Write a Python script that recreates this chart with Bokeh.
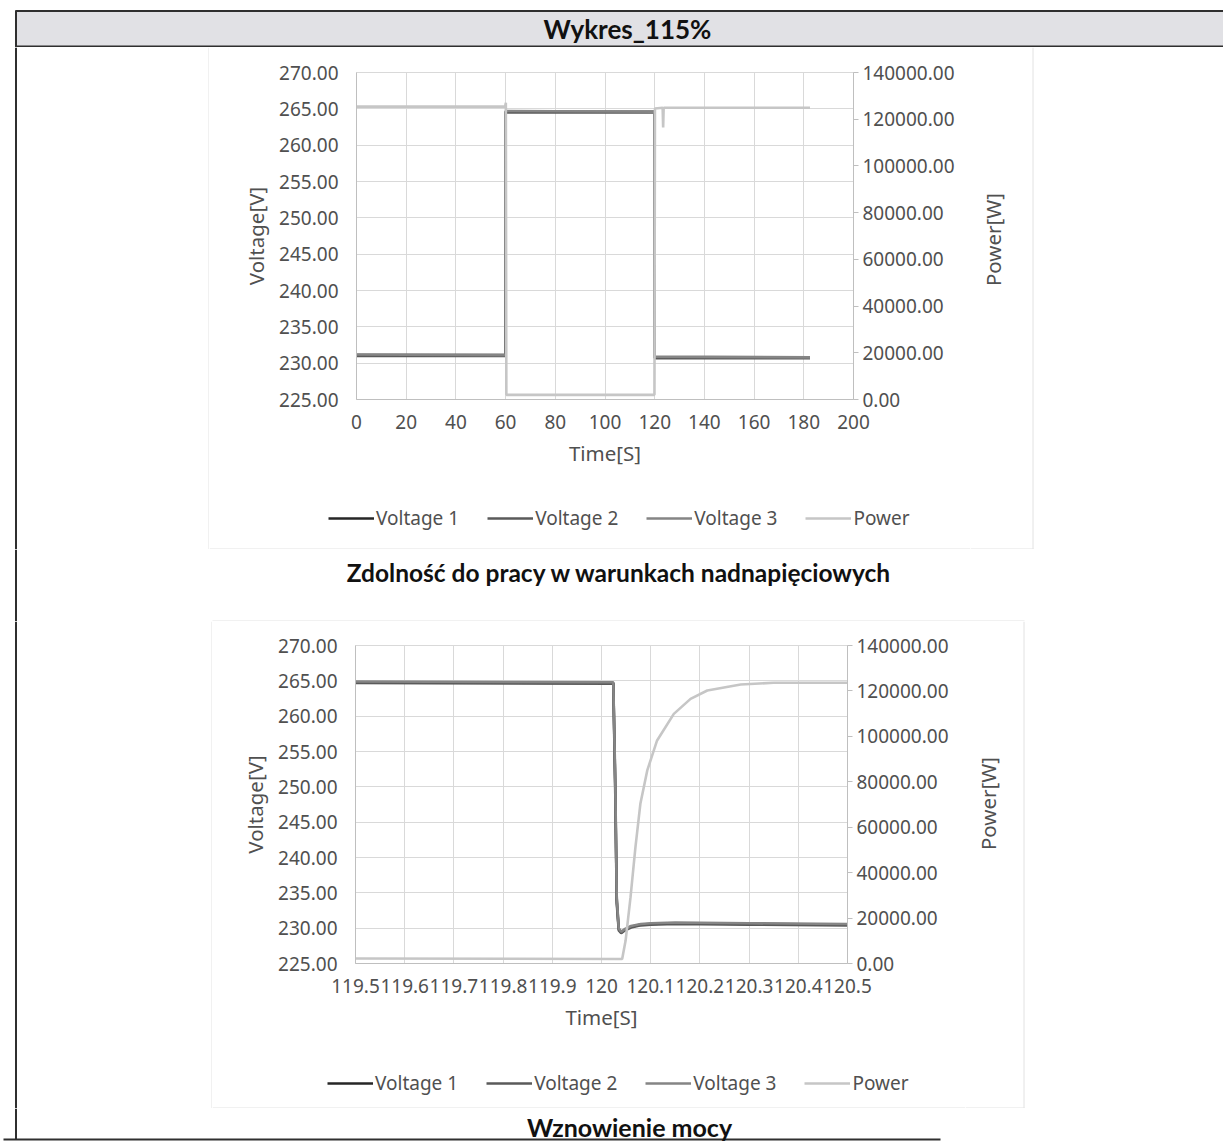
import math
from bokeh.plotting import figure
from bokeh.layouts import column, row
from bokeh.models import (Range1d, LinearAxis, FixedTicker, NumeralTickFormatter,
                          CustomJSTickFormatter, Legend, LegendItem)
from bokeh.core.properties import value
from bokeh.embed import file_html
from bokeh.resources import INLINE

# ---------------------------------------------------------------- data
series_names = ["Voltage 1", "Voltage 2", "Voltage 3", "Power"]

volt_ticks = [225, 230, 235, 240, 245, 250, 255, 260, 265, 270]
power_ticks = [0, 20000, 40000, 60000, 80000, 100000, 120000, 140000]

# Overvoltage ride-through, 0 .. 182 s
ovr_time_ticks = [0, 20, 40, 60, 80, 100, 120, 140, 160, 180, 200]
ovr_v_time = [0.0, 60.0, 60.0, 120.0, 120.0, 182.5]
ovr_v1 = [231.1, 231.1, 264.6, 264.6, 230.8, 230.8]
ovr_v2 = [231.0, 231.0, 264.5, 264.5, 230.7, 230.7]
ovr_v3 = [231.2, 231.1, 264.7, 264.6, 230.9, 230.8]
ovr_p_time = [0.0, 59.8, 60.1, 60.3, 119.9, 120.1, 123.2, 123.4, 123.6, 182.5]
ovr_power = [125400, 125400, 127000, 2000, 2000, 124600, 124900, 116500, 124900, 124900]

# Power restoration after the overvoltage, 119.5 .. 120.5 s
rst_time_ticks = [119.5, 119.6, 119.7, 119.8, 119.9, 120.0, 120.1, 120.2, 120.3, 120.4, 120.5]
rst_v_time = [119.5, 120.024, 120.028, 120.031, 120.035, 120.040, 120.048,
              120.06, 120.08, 120.10, 120.15, 120.30, 120.50]
rst_v1 = [264.8, 264.7, 250.0, 234.0, 229.9, 229.4, 229.8, 230.2, 230.5, 230.6, 230.7, 230.6, 230.5]
rst_v2 = [264.7, 264.6, 249.0, 233.5, 229.7, 229.3, 229.7, 230.1, 230.4, 230.5, 230.6, 230.5, 230.4]
rst_v3 = [264.9, 264.8, 251.0, 234.5, 230.0, 229.5, 229.9, 230.3, 230.6, 230.7, 230.8, 230.7, 230.6]
rst_p_time = [119.5, 120.042, 120.049, 120.059, 120.069, 120.079, 120.093, 120.113,
              120.147, 120.181, 120.215, 120.283, 120.35, 120.5]
rst_power = [2200, 2000, 10100, 29200, 51200, 70300, 85000, 98200,
             109900, 116500, 120200, 122800, 123600, 123600]

# ---------------------------------------------------------------- styling
TICK_FONT = "Noto Sans"
HEAD_FONT = "Lato"
TICK_SIZE = "19px"
TITLE_SIZE = "20.5px"
TEXT_GREY = "#505050"
GRID_GREY = "#d9d9d9"
SERIES_COLORS = ["#262626", "#5a5a5a", "#858585", "#c6c6c6"]
LINE_W = 2.6
BORDER = "#2f2f2f"
BOX = "#e2e2e2"
W = 1223
NAN = float("nan")


def strip(w, h):
    s = figure(width=w, height=h, output_backend="svg", toolbar_location=None,
               x_range=Range1d(0, w), y_range=Range1d(h, 0),
               x_axis_location=None, y_axis_location=None, min_border=0)
    s.grid.visible = False
    s.xgrid.visible = False
    s.ygrid.visible = False
    s.outline_line_color = None
    s.background_fill_color = "white"
    s.border_fill_color = "white"
    return s


def page_edge(s, h):
    s.segment(x0=[15.5], y0=[0], x1=[15.5], y1=[h], line_color=BORDER, line_width=2)


def caption(s, x, y, txt, size):
    s.text(x=[x], y=[y], text=[txt], text_font=value(HEAD_FONT), text_font_style="bold",
           text_font_size=size, text_align="center", text_baseline="middle",
           text_color="#111111")


def key_strip(w, h, loc):
    """Band under a chart holding its horizontal series key."""
    s = strip(w, h)
    s.segment(x0=[0], y0=[h - 0.5], x1=[w], y1=[h - 0.5], line_color=BOX, line_width=1)
    keys = [s.line(x=[NAN], y=[NAN], line_color=c, line_width=LINE_W) for c in SERIES_COLORS]
    legend = Legend(items=[LegendItem(label=n, renderers=[r]) for n, r in zip(series_names, keys)],
                    orientation="horizontal", location=loc)
    legend.label_text_font = TICK_FONT
    legend.label_text_font_size = TICK_SIZE
    legend.label_text_color = TEXT_GREY
    legend.glyph_width = 46
    legend.glyph_height = 18
    legend.label_standoff = 2
    legend.spacing = 28
    legend.padding = 0
    legend.margin = 0
    legend.border_line_color = None
    legend.background_fill_alpha = 0
    s.add_layout(legend)
    return s


def left_strip(w, h):
    s = strip(w, h)
    page_edge(s, h)
    s.segment(x0=[w - 0.5], y0=[0], x1=[w - 0.5], y1=[h], line_color=BOX, line_width=1)
    return s


def right_strip(w, h, box_x, title_y):
    """Right margin of a chart: secondary axis title and the chart box edge."""
    s = strip(w, h)
    s.segment(x0=[box_x - 0.5, 0], y0=[0, h - 0.5], x1=[box_x - 0.5, box_x], y1=[h, h - 0.5],
              line_color=BOX, line_width=1)
    s.text(x=[22], y=[title_y], text=["Power[W]"], angle=math.pi / 2,
           text_font=value(TICK_FONT), text_font_size=TITLE_SIZE, text_color=TEXT_GREY,
           text_align="center", text_baseline="middle")
    return s


def chart(w, h, borders, x_start, x_end, x_ticks, x_fmt, v_time, volts, p_time, power):
    left, right, top, bottom = borders
    p = figure(width=w, height=h, output_backend="svg", toolbar_location=None,
               x_range=Range1d(x_start, x_end), y_range=Range1d(225, 270),
               min_border_left=left, min_border_right=right,
               min_border_top=top, min_border_bottom=bottom,
               x_axis_label="Time[S]", y_axis_label="Voltage[V]")
    p.extra_y_ranges = {"power": Range1d(0, 140000)}
    p.outline_line_color = GRID_GREY
    p.background_fill_color = "white"
    p.border_fill_color = "white"

    p.xgrid.ticker = FixedTicker(ticks=x_ticks)
    p.ygrid.ticker = FixedTicker(ticks=volt_ticks)
    p.grid.grid_line_color = GRID_GREY
    p.grid.grid_line_width = 1

    xa = p.xaxis[0]
    xa.ticker = FixedTicker(ticks=x_ticks)
    if x_fmt is not None:
        xa.formatter = x_fmt
    xa.major_label_standoff = 9
    xa.axis_label_standoff = 7

    ya = p.yaxis[0]
    ya.ticker = FixedTicker(ticks=volt_ticks)
    ya.formatter = NumeralTickFormatter(format="0.00")
    ya.major_label_standoff = 12
    ya.axis_label_standoff = 6

    ra = LinearAxis(y_range_name="power", ticker=FixedTicker(ticks=power_ticks),
                    formatter=NumeralTickFormatter(format="0.00"))
    ra.major_tick_out = 5
    ra.major_tick_in = 0
    ra.major_label_standoff = 4
    p.add_layout(ra, "right")

    for ax in (xa, ya, ra):
        ax.minor_tick_line_color = None
        ax.axis_line_color = "#bfbfbf"
        ax.major_label_text_font = TICK_FONT
        ax.major_label_text_font_size = TICK_SIZE
        ax.major_label_text_color = TEXT_GREY
        ax.axis_label_text_font = TICK_FONT
        ax.axis_label_text_font_size = TITLE_SIZE
        ax.axis_label_text_font_style = "normal"
        ax.axis_label_text_color = TEXT_GREY
    xa.major_tick_line_color = None
    ya.major_tick_line_color = None
    ra.major_tick_line_color = "#bfbfbf"

    for ys, col in zip(volts, SERIES_COLORS[:3]):
        p.line(v_time, ys, line_color=col, line_width=LINE_W)
    p.line(p_time, power, y_range_name="power", line_color=SERIES_COLORS[3], line_width=LINE_W)
    return p


# ---------------------------------------------------------------- page header
head = strip(W, 47)
head.quad(left=[15], right=[W], top=[10], bottom=[46], fill_color="#e1e1e5", line_color=None)
head.segment(x0=[15, 15], y0=[10.5, 46], x1=[W, W], y1=[10.5, 46], line_color=BORDER, line_width=2)
head.segment(x0=[15.5], y0=[10], x1=[15.5], y1=[47], line_color=BORDER, line_width=2)
caption(head, 627, 28, "Wykres_115%", "26px")

# ---------------------------------------------------------------- first chart (box x 209..1033)
c1 = chart(761, 440, (147, 117, 25, 88), 0, 200, ovr_time_ticks, None,
           ovr_v_time, [ovr_v1, ovr_v2, ovr_v3], ovr_p_time, ovr_power)
k1 = key_strip(761, 62, (119, 18))
l1 = left_strip(209, 502)
r1 = right_strip(W - 209 - 761, 502, 1033 - 970, 192)
block1 = row(l1, column(c1, row(k1)), r1)

cap1 = strip(W, 72)
page_edge(cap1, 72)
cap1.segment(x0=[212], y0=[71.5], x1=[1024], y1=[71.5], line_color=BOX, line_width=1)
caption(cap1, 619, 23, "Zdolność do pracy w warunkach nadnapięciowych", "24.5px")

# ---------------------------------------------------------------- second chart (box x 212..1024)
rst_fmt = CustomJSTickFormatter(code="return String(Number(tick.toFixed(1)));")
c2 = chart(753, 437, (143, 118, 24, 95), 119.5, 120.5, rst_time_ticks, rst_fmt,
           rst_v_time, [rst_v1, rst_v2, rst_v3], rst_p_time, rst_power)
k2 = key_strip(753, 50, (115, 12))
l2 = left_strip(212, 487)
r2 = right_strip(W - 212 - 753, 487, 1024 - 965, 182)
block2 = row(l2, column(c2, row(k2)), r2)

cap2 = strip(W, 39)
cap2.segment(x0=[15.5], y0=[0], x1=[15.5], y1=[31], line_color=BORDER, line_width=2)
cap2.segment(x0=[3], y0=[31], x1=[940], y1=[31], line_color=BORDER, line_width=2)
caption(cap2, 629, 18, "Wznowienie mocy", "25px")

page = column(head, block1, cap1, block2, cap2)

open("out.html", "w").write(file_html(page, INLINE))
